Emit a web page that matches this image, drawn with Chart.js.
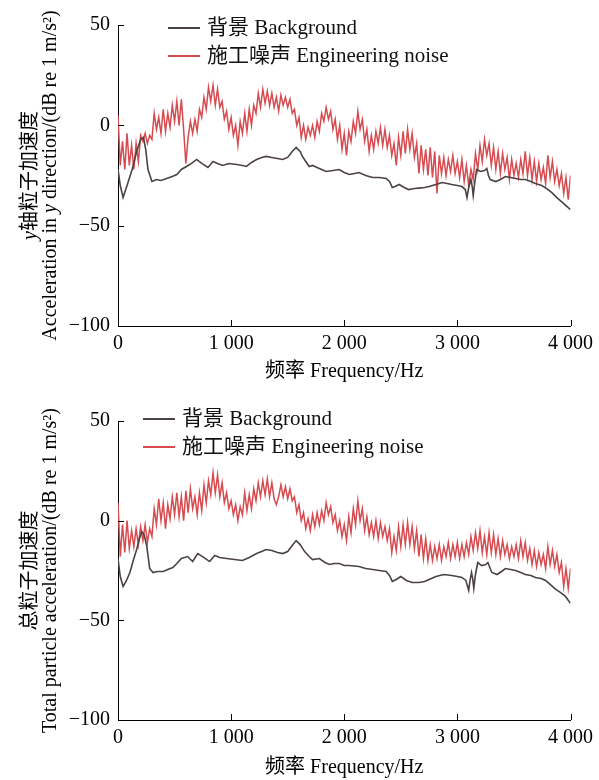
<!DOCTYPE html>
<html>
<head>
<meta charset="utf-8">
<script src="https://cdn.jsdelivr.net/npm/chart.js@4.4.0/dist/chart.umd.min.js"></script>
<style>
  html, body { margin: 0; padding: 0; background: #fff; overflow: hidden; }
  #wrap { position: relative; width: 599px; height: 780px; }
  canvas { position: absolute; left: 0; }
  .leg { position: absolute; font: 21px "Liberation Serif", "Noto Sans CJK SC", serif; color: #111; white-space: nowrap; line-height: 24px; }
  .leg i { display: inline-block; width: 32px; height: 2px; vertical-align: middle; margin-right: 7px; position: relative; top: -1px; }
</style>
</head>
<body>
<div id="wrap">
  <canvas id="chartY" width="599" height="390" style="top:0"></canvas>
  <canvas id="chartTotal" width="599" height="390" style="top:390px"></canvas>
  <div class="leg" style="left:168px; top:15px"><i style="background:#4b4242"></i>背景 Background</div>
  <div class="leg" style="left:168px; top:43px"><i style="background:#d64b50"></i>施工噪声 Engineering noise</div>
  <div class="leg" style="left:143px; top:406px"><i style="background:#4b4242"></i>背景 Background</div>
  <div class="leg" style="left:143px; top:434px"><i style="background:#d64b50"></i>施工噪声 Engineering noise</div>
</div>
<script>
// frequency grid of the noise spectra (Hz)
const noiseFreq = Array.from({ length: 201 }, (_, i) => i * 20);

// y direction, engineering noise (dB)
const yNoise = [
  5, -20, -8, -22, -4, -20, -10, -22, -9, -18,
  -5, -8, -4, -9, -5, -7, 6, -2, 4, -4,
  8, -3, 6, -1, 10, 2, 12, 0, 13, -2,
  -19, -6, 2, -4, 3, -3, 8, 4, 14, 8,
  19, 12, 20, 10, 18, 9, 12, 3, 7, -2,
  4, -5, 0, -10, 2, -4, 6, -3, 8, 0,
  10, 6, 16, 9, 18, 11, 17, 10, 16, 9,
  14, 7, 15, 10, 14, 9, 13, 6, 8, 0,
  4, -6, 0, -7, -1, -5, 0, -6, 2, -3,
  6, 2, 9, 3, 7, -2, 3, -7, 0, -12,
  -4, -15, -3, -8, 2, -4, 7, -2, 3, -8,
  -2, -13, -5, -12, -3, -9, -1, -10, -2, -11,
  -5, -15, -9, -20, -6, -15, -3, -14, -2, -12,
  -4, -16, -9, -24, -10, -22, -12, -25, -11, -26,
  -13, -34, -15, -24, -16, -25, -17, -23, -15, -24,
  -18, -26, -17, -28, -20, -30, -22, -27, -14, -22,
  -10, -18, -7, -15, -9, -20, -11, -22, -13, -24,
  -14, -22, -16, -27, -17, -25, -19, -26, -17, -24,
  -13, -25, -16, -27, -18, -28, -19, -27, -21, -29,
  -15, -26, -18, -28, -22, -30, -24, -34, -26, -37,
  -25
];

// total particle acceleration, engineering noise (dB)
const totalNoise = [
  9, -18, -2, -16, 0, -14, -5, -13, -4, -12,
  -3, -10, -2, -11, -4, -8, 6, -2, 11, 0,
  9, -4, 8, 1, 12, 3, 14, 2, 12, 0,
  15, 4, 16, 6, 12, 3, 14, 5, 18, 9,
  20, 13, 24, 14, 23, 12, 19, 9, 14, 6,
  10, 3, 8, 0, 7, 3, 14, 5, 13, 6,
  16, 10, 19, 12, 20, 13, 21, 12, 19, 11,
  8, 12, 18, 12, 17, 11, 16, 10, 12, 4,
  8, 0, 4, -4, 1, -5, 3, -3, 4, -2,
  5, 0, 9, 3, 7, -1, 3, -5, 0, -8,
  -2, -10, 2, -6, 6, -2, 10, 0, 6, -5,
  2, -7, -1, -8, 0, -9, -1, -8, -3, -10,
  -4, -16, -8, -15, -3, -13, -2, -12, -1, -12,
  -3, -14, -5, -18, -7, -19, -9, -20, -12, -20,
  -13, -19, -12, -20, -13, -18, -11, -19, -12, -18,
  -11, -19, -12, -18, -11, -17, -8, -15, -6, -14,
  -5, -16, -8, -17, -6, -16, -7, -17, -9, -18,
  -10, -17, -12, -19, -13, -18, -12, -19, -10, -18,
  -11, -20, -14, -22, -15, -23, -16, -22, -17, -24,
  -13, -22, -15, -23, -17, -26, -21, -33, -24, -34,
  -24
];

// background, y direction
const yBgFreq = [
  0, 20, 45, 80, 125, 165, 200, 225, 245, 265,
  300, 340, 380, 430, 480, 520, 560, 605, 650, 695,
  740, 795, 840, 880, 925, 980, 1050, 1100, 1135, 1180,
  1225, 1270, 1310, 1360, 1410, 1455, 1500, 1540, 1575, 1610,
  1630, 1660, 1690, 1720, 1760, 1800, 1840, 1900, 1955, 2000,
  2045, 2090, 2130, 2190, 2250, 2310, 2370, 2400, 2425, 2450,
  2485, 2530, 2570, 2620, 2660, 2710, 2750, 2810, 2865, 2910,
  2950, 3000, 3040, 3070, 3085, 3100, 3120, 3130, 3140, 3155,
  3170, 3205, 3240, 3260, 3275, 3290, 3340, 3380, 3425, 3470,
  3515, 3560, 3600, 3650, 3690, 3745, 3790, 3835, 3880, 3920,
  3960, 4000
];
const yBg = [
  -22, -30, -36, -30, -22, -13, -7, -6, -12, -22,
  -28, -27, -27.5, -26.5, -25.5, -24.5, -22, -20.5, -19, -17,
  -19, -21, -18, -19, -20, -19, -19.5, -20, -20.5, -18.5,
  -17, -16, -15.5, -16, -16.5, -17, -16, -13, -11, -13,
  -15.5, -18, -20.5, -20, -21, -22, -23, -22.5, -22, -23.5,
  -24.5, -24, -23.5, -25, -26, -26, -26.5, -28, -31, -30.5,
  -29.5, -31, -32, -31.5, -31.3, -31, -30.5, -29.5, -28.5, -29,
  -29.5, -30, -30.5, -32, -36, -31, -27, -30, -35, -28,
  -22, -23, -22.5, -21.5, -25, -27, -28, -27, -25.5, -26,
  -26.5, -27, -27, -28, -29, -30, -31.5, -33.5, -36, -38,
  -40, -42
];

// background, total
const totalBgFreq = [
  0, 20, 45, 75, 105, 135, 165, 190, 210, 230,
  255, 280, 310, 350, 400, 440, 485, 520, 560, 615,
  660, 705, 760, 810, 855, 900, 960, 1030, 1100, 1160,
  1225, 1270, 1310, 1360, 1410, 1455, 1500, 1540, 1575, 1610,
  1650, 1690, 1720, 1780, 1830, 1870, 1910, 1955, 2000, 2045,
  2130, 2190, 2250, 2310, 2370, 2400, 2425, 2460, 2500, 2550,
  2600, 2660, 2710, 2750, 2810, 2880, 2950, 3000, 3040, 3075,
  3100, 3112, 3125, 3135, 3145, 3160, 3180, 3215, 3250, 3270,
  3290, 3305, 3350, 3390, 3425, 3470, 3515, 3560, 3600, 3650,
  3690, 3740, 3780, 3830, 3870, 3910, 3955, 4000
];
const totalBg = [
  -19, -28, -33, -30, -26, -20, -14.5, -9, -5.5, -7,
  -13, -24, -26, -25.5, -25.5, -24.5, -23.5, -21.5, -19, -18,
  -20.5, -16.5, -18.5, -20.5, -17.5, -18.5, -19, -19.5, -20, -18.5,
  -16.5, -15.5, -14.5, -15, -16, -16.5, -15.5, -12.5, -10, -12,
  -15.5, -18, -19.5, -19, -21, -22, -21.5, -21.5, -22.5, -22.5,
  -23, -24, -24.5, -25, -25.5, -27.5, -30.5, -29.5, -28, -30,
  -31, -31, -30.5, -29.5, -28, -27, -27.5, -28, -28.5, -30,
  -35, -30, -26, -29, -34, -27, -21, -22.5, -22, -21,
  -24, -26, -27, -25.5, -24, -24.5, -25, -26, -27, -27.5,
  -28.5, -29, -30, -32.5, -34.5, -36, -38, -41.5
];

const xTicks = [0, 1000, 2000, 3000, 4000];
const yTicks = [-100, -50, 0, 50];

const FONT = '"Liberation Serif", "Noto Sans CJK SC", serif';
const BG_COLOR = '#4b4242';
const NOISE_COLOR = '#d64b50';

const pairs = (xs, ys) => xs.map((x, i) => ({ x: x, y: ys[i] }));

// ticks drawn towards the inside of the plot
const innerTicks = {
  id: 'innerTicks',
  afterDraw(chart) {
    const { ctx, chartArea: a, scales: { x, y } } = chart;
    ctx.save();
    ctx.strokeStyle = '#000';
    ctx.lineWidth = 1;
    ctx.beginPath();
    x.ticks.forEach(t => {
      if (t.value === 0) return;
      const px = Math.round(x.getPixelForValue(t.value)) + 0.5;
      ctx.moveTo(px, a.bottom);
      ctx.lineTo(px, a.bottom - 6);
    });
    y.ticks.forEach(t => {
      if (t.value === -100) return;
      const py = Math.round(y.getPixelForValue(t.value)) + 0.5;
      ctx.moveTo(a.left, py);
      ctx.lineTo(a.left + 6, py);
    });
    ctx.stroke();
    ctx.restore();
  }
};

// y axis title in two rotated lines, with an italic "y"
const yTitle = {
  id: 'yTitle',
  afterDraw(chart, args, opts) {
    const { ctx, chartArea: a } = chart;
    const cy = (a.top + a.bottom) / 2;
    opts.lines.forEach((segs, i) => {
      ctx.save();
      ctx.translate(opts.xs[i], cy);
      ctx.rotate(-Math.PI / 2);
      ctx.textBaseline = 'middle';
      ctx.fillStyle = '#000';
      let w = 0;
      segs.forEach(s => { ctx.font = (s.italic ? 'italic ' : '') + '20px ' + FONT; w += ctx.measureText(s.text).width; });
      let x0 = -w / 2;
      segs.forEach(s => {
        ctx.font = (s.italic ? 'italic ' : '') + '20px ' + FONT;
        ctx.fillText(s.text, x0, 0);
        x0 += ctx.measureText(s.text).width;
      });
      ctx.restore();
    });
  }
};

function makeChart(id, bg, noise, titleLines, padTop, xAxisH, xTitlePad) {
  return new Chart(document.getElementById(id), {
    type: 'line',
    data: {
      datasets: [
        { label: '背景 Background', data: bg, borderColor: BG_COLOR, borderWidth: 1.6 },
        { label: '施工噪声 Engineering noise', data: noise, borderColor: NOISE_COLOR, borderWidth: 1.5 }
      ]
    },
    options: {
      responsive: false,
      animation: false,
      devicePixelRatio: 1,
      elements: { point: { radius: 0 }, line: { tension: 0 } },
      layout: { padding: { top: padTop, right: 27, left: 0, bottom: 0 } },
      plugins: {
        legend: { display: false },
        tooltip: { enabled: false },
        yTitle: { lines: titleLines, xs: [31, 51] }
      },
      scales: {
        x: {
          type: 'linear',
          min: 0,
          max: 4000,
          afterBuildTicks: s => { s.ticks = xTicks.map(v => ({ value: v })); },
          afterFit: s => { s.height = xAxisH; },
          grid: { display: false, drawTicks: false },
          border: { display: true, color: '#000', width: 1 },
          ticks: {
            maxRotation: 0,
            autoSkip: false,
            padding: 6,
            color: '#000',
            font: { family: FONT, size: 20 },
            callback: v => v === 0 ? '0' : (v / 1000) + ' 000'
          },
          title: {
            display: true,
            text: '频率 Frequency/Hz',
            color: '#000',
            font: { family: FONT, size: 20 },
            padding: { top: 0, bottom: xTitlePad }
          }
        },
        y: {
          min: -100,
          max: 50,
          afterBuildTicks: s => { s.ticks = yTicks.map(v => ({ value: v })); },
          afterFit: s => { s.width = 118; },
          grid: { display: false, drawTicks: false },
          border: { display: true, color: '#000', width: 1 },
          ticks: {
            padding: 8,
            color: '#000',
            font: { family: FONT, size: 20 },
            callback: v => v < 0 ? '\u2212' + Math.abs(v) : String(v)
          }
        }
      }
    },
    plugins: [innerTicks, yTitle]
  });
}

makeChart('chartY', pairs(yBgFreq, yBg), pairs(noiseFreq, yNoise),
  [[{ text: 'y', italic: true }, { text: '轴粒子加速度' }],
   [{ text: 'Acceleration in ' }, { text: 'y', italic: true }, { text: ' direction/(dB re 1 m/s²)' }]],
  25, 64, 6);
makeChart('chartTotal', pairs(totalBgFreq, totalBg), pairs(noiseFreq, totalNoise),
  [[{ text: '总粒子加速度' }],
   [{ text: 'Total particle acceleration/(dB re 1 m/s²)' }]],
  31, 60, 0);
</script>
</body>
</html>
